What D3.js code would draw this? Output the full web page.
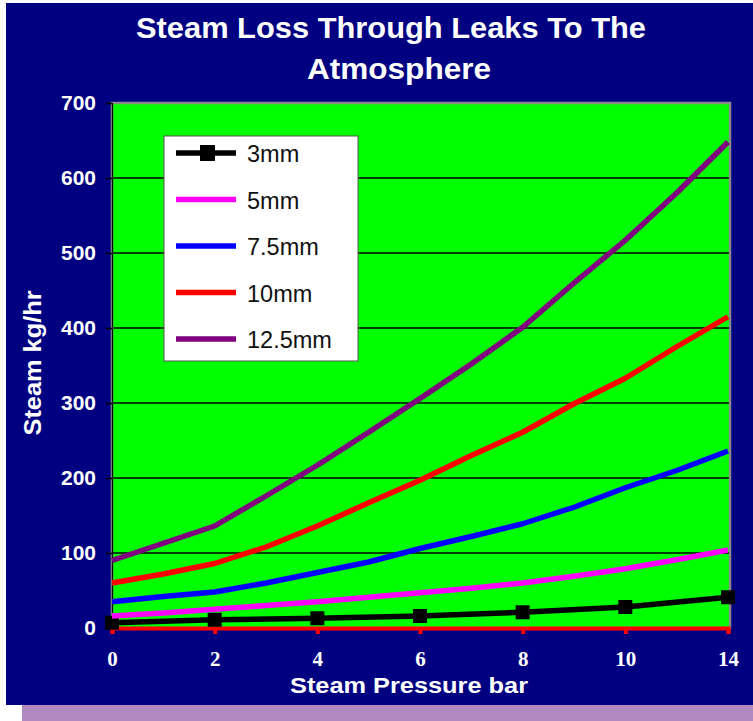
<!DOCTYPE html>
<html>
<head>
<meta charset="utf-8">
<script src="https://cdn.jsdelivr.net/npm/d3@7/dist/d3.min.js"></script>
<style>
  html, body { margin: 0; padding: 0; background: #ffffff; }
  svg { display: block; }
</style>
</head>
<body>
<svg id="chart" width="753" height="721"></svg>
<script>
// Steam pressure (bar) categories; only every other one carries a label
const pressures = ["0", "1", "2", "3", "4", "5", "6", "7", "8", "9", "10", "12", "14"];
const labelledPressures = ["0", "2", "4", "6", "8", "10", "14"];

// Steam loss (kg/hr) per orifice size
const loss3mm   = [7, null, 11, null, 13, null, 16, null, 21, null, 28, null, 41];
const loss5mm   = [16, 20, 25, 30, 35, 41, 47, 53, 60, 69, 79, 91, 104];
const loss7_5mm = [35, 42, 48, 60, 74, 88, 106, 122, 139, 161, 187, 210, 236];
const loss10mm  = [60, 72, 86, 108, 136, 167, 197, 230, 261, 299, 333, 375, 415];
const loss12_5mm = [90, 113, 136, 176, 217, 261, 306, 352, 401, 460, 517, 580, 648];

const seriesNames = ["3mm", "5mm", "7.5mm", "10mm", "12.5mm"];
const seriesColors = ["#000000", "#ff00ff", "#0000ff", "#ff0000", "#800080"];
const seriesValues = [loss3mm, loss5mm, loss7_5mm, loss10mm, loss12_5mm];

const yTicks = [0, 100, 200, 300, 400, 500, 600, 700];

const svg = d3.select("#chart");

// Slide-style frame: soft purple drop band beneath a navy panel
svg.append("rect").attr("x", 22).attr("y", 690).attr("width", 731).attr("height", 31).attr("fill", "#af89bf");
svg.append("rect").attr("x", 6).attr("y", 3).attr("width", 747).attr("height", 702).attr("fill", "#000080");

const plot = { left: 112, right: 728, top: 103, bottom: 628 };

const x = d3.scalePoint().domain(pressures).range([plot.left, plot.right]);
const y = d3.scaleLinear().domain([0, 700]).range([plot.bottom, plot.top]);

// Plot area
svg.append("rect")
  .attr("x", plot.left).attr("y", plot.top)
  .attr("width", plot.right - plot.left + 2).attr("height", plot.bottom - plot.top)
  .attr("fill", "#00ff00")
  .attr("stroke", "#8a8a8a").attr("stroke-width", 2.5);

// Horizontal gridlines
svg.append("g")
  .selectAll("line")
  .data(yTicks.filter(v => v > 0 && v < 700))
  .join("line")
  .attr("x1", plot.left).attr("x2", plot.right + 1)
  .attr("y1", d => y(d)).attr("y2", d => y(d))
  .attr("stroke", "#000").attr("stroke-width", 1.4);

// Value axis
const yAxis = svg.append("g")
  .attr("transform", `translate(${plot.left},0)`)
  .call(d3.axisLeft(y).tickValues(yTicks).tickSize(6).tickPadding(10));
yAxis.select(".domain").attr("stroke", "#000").attr("stroke-width", 1.2);
yAxis.selectAll(".tick line").attr("stroke", "#000").attr("stroke-width", 1.5);
yAxis.selectAll(".tick text")
  .attr("fill", "#ffffff")
  .attr("font-family", "Liberation Sans, Arial, sans-serif")
  .attr("font-weight", "bold")
  .attr("font-size", 21);

// Category axis: thick red baseline with downward ticks
const xAxis = svg.append("g")
  .attr("transform", `translate(0,${plot.bottom})`)
  .call(d3.axisBottom(x).tickValues(labelledPressures).tickSize(6).tickPadding(17));
xAxis.select(".domain").attr("stroke", "#ff0000").attr("stroke-width", 4);
xAxis.selectAll(".tick line").attr("stroke", "#ff0000").attr("stroke-width", 4);
xAxis.selectAll(".tick text")
  .attr("fill", "#ffffff")
  .attr("font-family", "Liberation Serif, 'Times New Roman', serif")
  .attr("font-weight", "bold")
  .attr("font-size", 21);

// Series lines
const line = d3.line()
  .x(d => x(d.p))
  .y(d => y(d.v));

seriesValues.forEach((vals, i) => {
  const pts = pressures.map((p, j) => ({ p, v: vals[j] })).filter(d => d.v !== null);
  svg.append("path")
    .datum(pts)
    .attr("fill", "none")
    .attr("stroke", seriesColors[i])
    .attr("stroke-width", 5.5)
    .attr("stroke-linejoin", "round")
    .attr("d", line);
  if (i === 0) {
    svg.append("g")
      .selectAll("rect")
      .data(pts)
      .join("rect")
      .attr("x", d => x(d.p) - 7).attr("y", d => y(d.v) - 7)
      .attr("width", 14).attr("height", 14)
      .attr("fill", "#000");
  }
});

// Legend
const legend = svg.append("g").attr("transform", "translate(164,136)");
legend.append("rect")
  .attr("width", 194).attr("height", 225)
  .attr("fill", "#ffffff").attr("stroke", "#555").attr("stroke-width", 1);
seriesNames.forEach((name, i) => {
  const cy = 17 + i * 46.5;
  legend.append("line")
    .attr("x1", 12).attr("x2", 72).attr("y1", cy).attr("y2", cy)
    .attr("stroke", seriesColors[i]).attr("stroke-width", 5.5);
  if (i === 0) {
    legend.append("rect").attr("x", 36).attr("y", cy - 8).attr("width", 15).attr("height", 16).attr("fill", "#000");
  }
  legend.append("text")
    .attr("x", 83).attr("y", cy + 9)
    .attr("font-family", "Liberation Sans, Arial, sans-serif")
    .attr("font-size", 23.5)
    .attr("fill", "#111")
    .text(name);
});

// Titles
const titleFont = "Liberation Sans, Arial, sans-serif";
svg.append("text")
  .attr("x", 391).attr("y", 38)
  .attr("text-anchor", "middle")
  .attr("font-family", titleFont).attr("font-weight", "bold").attr("font-size", 29)
  .attr("textLength", 510).attr("lengthAdjust", "spacingAndGlyphs")
  .attr("fill", "#ffffff")
  .text("Steam Loss Through Leaks To The");
svg.append("text")
  .attr("x", 399).attr("y", 79)
  .attr("text-anchor", "middle")
  .attr("font-family", titleFont).attr("font-weight", "bold").attr("font-size", 29)
  .attr("textLength", 184).attr("lengthAdjust", "spacingAndGlyphs")
  .attr("fill", "#ffffff")
  .text("Atmosphere");

svg.append("text")
  .attr("x", 409).attr("y", 693)
  .attr("text-anchor", "middle")
  .attr("font-family", titleFont).attr("font-weight", "bold").attr("font-size", 22)
  .attr("textLength", 238).attr("lengthAdjust", "spacingAndGlyphs")
  .attr("fill", "#ffffff")
  .text("Steam Pressure bar");

svg.append("text")
  .attr("transform", "translate(41,363) rotate(-90)")
  .attr("text-anchor", "middle")
  .attr("font-family", titleFont).attr("font-weight", "bold").attr("font-size", 23)
  .attr("textLength", 145).attr("lengthAdjust", "spacingAndGlyphs")
  .attr("fill", "#ffffff")
  .text("Steam kg/hr");
</script>
</body>
</html>
